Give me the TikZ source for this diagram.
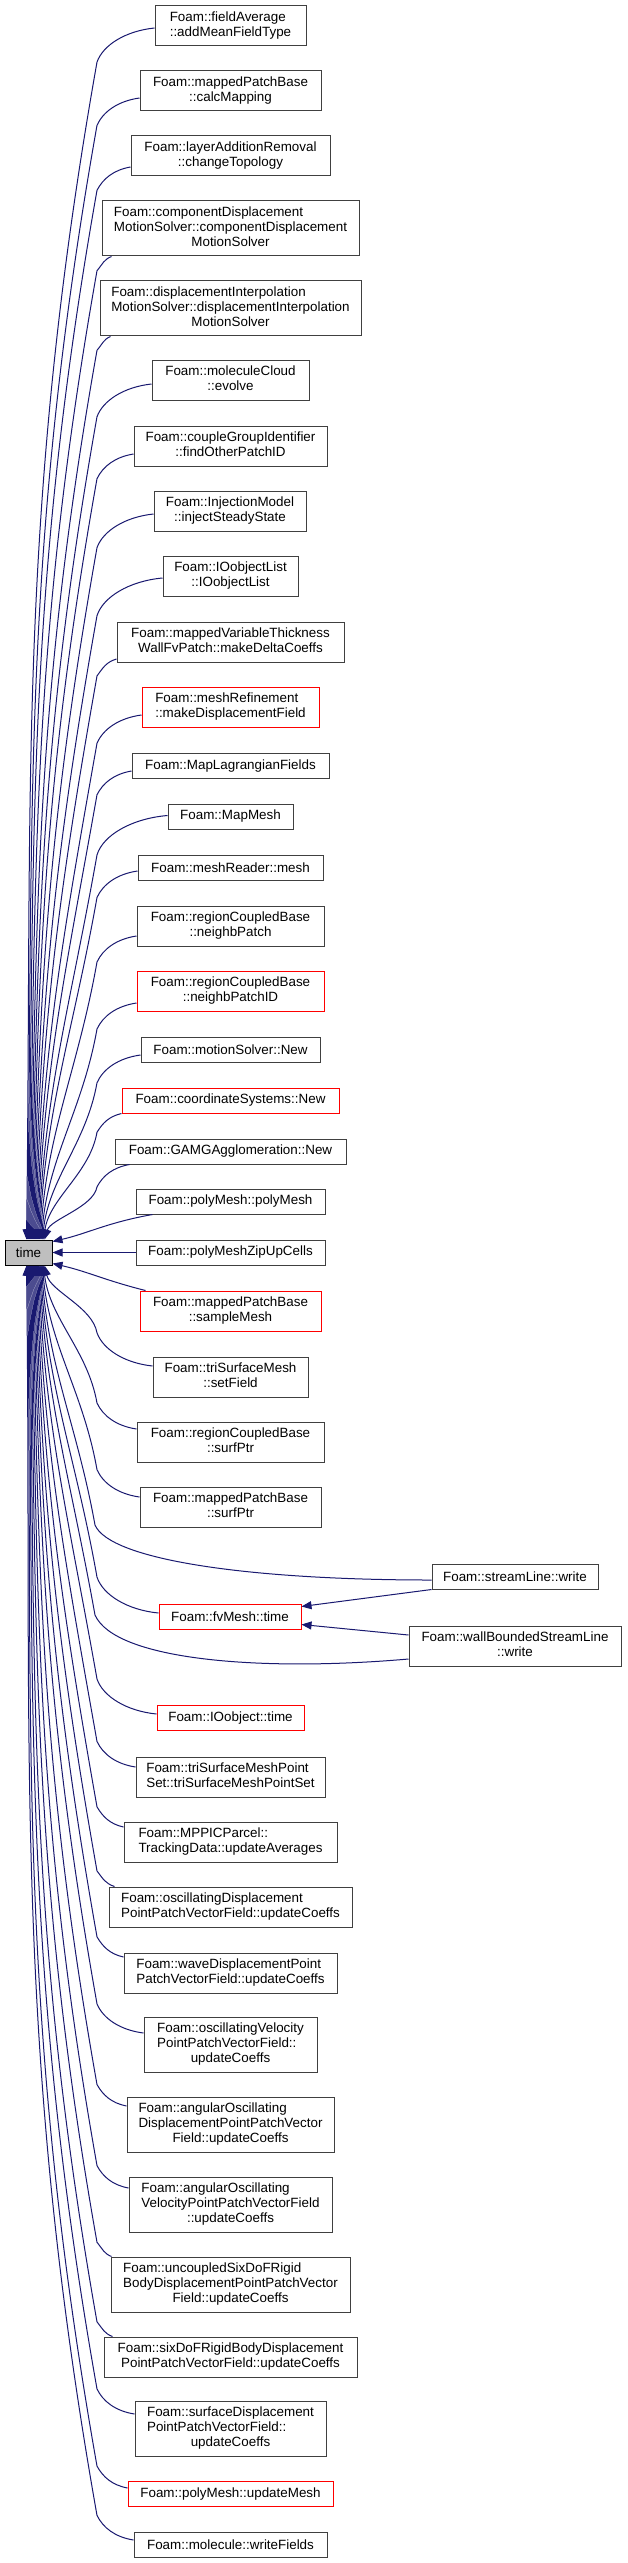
\documentclass[tikz,border=0pt]{standalone}
\usepackage{fontspec}
\setmainfont{Liberation Sans}
\usetikzlibrary{arrows.meta}
\definecolor{navy}{HTML}{191970}
\definecolor{boxline}{HTML}{404040}
\definecolor{timefill}{HTML}{BFBFBF}
\newcommand\nodefont{\fontsize{13.4}{15}\selectfont}
\newcommand\twol[2]{\begin{tabular}{@{}l@{}}#1\\\multicolumn{1}{@{}c@{}}{#2}\end{tabular}}
\newcommand\threel[3]{\begin{tabular}{@{}l@{}}#1\\#2\\\multicolumn{1}{@{}c@{}}{#3}\end{tabular}}
\newcommand\UpE[4]{%
 \pgfmathsetmacro\eBy{#3+0.45*(#2-97)+8}%
 \pgfmathsetmacro\eCa{-0.5*(#2-97)}%
 \pgfmathsetmacro\eCb{0.5*(\eBy-#3)}%
 \pgfmathsetmacro\eD{1240-\eBy}%
 \pgfmathsetmacro\eDx{-0.068*\eD}%
 \pgfmathsetmacro\eDy{0.384*\eD}%
 \draw[edge] (#1) .. controls +(\eCa,3) and +(6,-\eCb) .. (97,\eBy) .. controls +(\eDx,\eDy) and +(6,-\eDy) .. ([shift={(#4,0)}]tm.north west);%
}
\newcommand\LoE[4]{%
 \pgfmathsetmacro\eBy{#3-0.45*(#2-97)-8}%
 \pgfmathsetmacro\eCa{-0.5*(#2-97)}%
 \pgfmathsetmacro\eCb{0.5*(#3-\eBy)}%
 \pgfmathsetmacro\eD{\eBy-1265}%
 \pgfmathsetmacro\eDx{-0.068*\eD}%
 \pgfmathsetmacro\eDy{0.384*\eD}%
 \draw[edge] (#1) .. controls +(\eCa,-3) and +(6,\eCb) .. (97,\eBy) .. controls +(\eDx,-\eDy) and +(6,\eDy) .. ([shift={(#4,0)}]tm.south west);%
}
\tikzset{
 fbox/.style={draw=boxline, line width=1pt, fill=white, inner xsep=6pt, inner ysep=0pt, font=\nodefont},
 rbox/.style={fbox, draw=red},
 tbox/.style={draw=black, fill=timefill, line width=1pt, minimum width=47pt, minimum height=25pt, inner sep=0pt, font=\nodefont},
 edge/.style={draw=navy, line width=1pt, -{Triangle[length=10pt,width=8pt]}}
}
\begin{document}
\begin{tikzpicture}[x=1pt,y=-1pt]
\path[use as bounding box, fill=white] (0,0) rectangle (627,2563);
\node[fbox,minimum width=151pt,minimum height=40pt] (n1) at (230.5,26) {\twol{Foam::fieldAverage}{::addMeanFieldType}};
\node[fbox,minimum width=181pt,minimum height=40pt] (n2) at (230.5,91) {\twol{Foam::mappedPatchBase}{::calcMapping}};
\node[fbox,minimum width=199pt,minimum height=40pt] (n3) at (230.5,156) {\twol{Foam::layerAdditionRemoval}{::changeTopology}};
\node[fbox,minimum width=257pt,minimum height=55pt] (n4) at (230.5,228.5) {\threel{Foam::componentDisplacement}{MotionSolver::componentDisplacement}{MotionSolver}};
\node[fbox,minimum width=261pt,minimum height=55pt] (n5) at (230.5,308.5) {\threel{Foam::displacementInterpolation}{MotionSolver::displacementInterpolation}{MotionSolver}};
\node[fbox,minimum width=157pt,minimum height=40pt] (n6) at (230.5,380) {\twol{Foam::moleculeCloud}{::evolve}};
\node[fbox,minimum width=193pt,minimum height=40pt] (n7) at (230.5,446) {\twol{Foam::coupleGroupIdentifier}{::findOtherPatchID}};
\node[fbox,minimum width=152pt,minimum height=40pt] (n8) at (230,511) {\twol{Foam::InjectionModel}{::injectSteadyState}};
\node[fbox,minimum width=135pt,minimum height=40pt] (n9) at (230.5,576) {\twol{Foam::IOobjectList}{::IOobjectList}};
\node[fbox,minimum width=227pt,minimum height=40pt] (n10) at (230.5,642) {\twol{Foam::mappedVariableThickness}{WallFvPatch::makeDeltaCoeffs}};
\node[rbox,minimum width=177pt,minimum height=40pt] (n11) at (230.5,707) {\twol{Foam::meshRefinement}{::makeDisplacementField}};
\node[fbox,minimum width=197pt,minimum height=25pt] (n12) at (230.5,766) {Foam::MapLagrangianFields};
\node[fbox,minimum width=125pt,minimum height=25pt] (n13) at (230.5,816.5) {Foam::MapMesh};
\node[fbox,minimum width=185pt,minimum height=25pt] (n14) at (230.5,867.5) {Foam::meshReader::mesh};
\node[fbox,minimum width=187pt,minimum height=40pt] (n15) at (230.5,926) {\twol{Foam::regionCoupledBase}{::neighbPatch}};
\node[rbox,minimum width=187pt,minimum height=40pt] (n16) at (230.5,991) {\twol{Foam::regionCoupledBase}{::neighbPatchID}};
\node[fbox,minimum width=179pt,minimum height=25pt] (n17) at (230.5,1049.5) {Foam::motionSolver::New};
\node[rbox,minimum width=217pt,minimum height=25pt] (n18) at (230.5,1100.5) {Foam::coordinateSystems::New};
\node[fbox,minimum width=231pt,minimum height=25pt] (n19) at (230.5,1151.5) {Foam::GAMGAgglomeration::New};
\node[fbox,minimum width=189pt,minimum height=25pt] (n20) at (230.5,1201.5) {Foam::polyMesh::polyMesh};
\node[fbox,minimum width=189pt,minimum height=25pt] (n21) at (230.5,1252.5) {Foam::polyMeshZipUpCells};
\node[tbox] (tm) at (28.5,1252.5) {time};
\node[rbox,minimum width=181pt,minimum height=40pt] (n22) at (230.5,1311) {\twol{Foam::mappedPatchBase}{::sampleMesh}};
\node[fbox,minimum width=155pt,minimum height=40pt] (n23) at (230.5,1377) {\twol{Foam::triSurfaceMesh}{::setField}};
\node[fbox,minimum width=187pt,minimum height=40pt] (n24) at (230.5,1442) {\twol{Foam::regionCoupledBase}{::surfPtr}};
\node[fbox,minimum width=181pt,minimum height=40pt] (n25) at (230.5,1507) {\twol{Foam::mappedPatchBase}{::surfPtr}};
\node[fbox,minimum width=166pt,minimum height=25pt] (n26) at (515,1576.5) {Foam::streamLine::write};
\node[rbox,minimum width=142pt,minimum height=25pt] (n27) at (230,1616.5) {Foam::fvMesh::time};
\node[fbox,minimum width=212pt,minimum height=40pt] (n28) at (515,1646) {\twol{Foam::wallBoundedStreamLine}{::write}};
\node[rbox,minimum width=147pt,minimum height=25pt] (n29) at (230.5,1718) {Foam::IOobject::time};
\node[fbox,minimum width=189pt,minimum height=40pt] (n30) at (230.5,1777) {\twol{Foam::triSurfaceMeshPoint}{Set::triSurfaceMeshPointSet}};
\node[fbox,minimum width=213pt,minimum height=40pt] (n31) at (230.5,1842) {\twol{Foam::MPPICParcel::}{TrackingData::updateAverages}};
\node[fbox,minimum width=243pt,minimum height=40pt] (n32) at (230.5,1907) {\twol{Foam::oscillatingDisplacement}{PointPatchVectorField::updateCoeffs}};
\node[fbox,minimum width=213pt,minimum height=40pt] (n33) at (230.5,1973) {\twol{Foam::waveDisplacementPoint}{PatchVectorField::updateCoeffs}};
\node[fbox,minimum width=173pt,minimum height=55pt] (n34) at (230.5,2044.5) {\threel{Foam::oscillatingVelocity}{PointPatchVectorField::}{updateCoeffs}};
\node[fbox,minimum width=207pt,minimum height=55pt] (n35) at (230.5,2124.5) {\threel{Foam::angularOscillating}{DisplacementPointPatchVector}{Field::updateCoeffs}};
\node[fbox,minimum width=203pt,minimum height=55pt] (n36) at (230.5,2204.5) {\threel{Foam::angularOscillating}{VelocityPointPatchVectorField}{::updateCoeffs}};
\node[fbox,minimum width=239pt,minimum height=55pt] (n37) at (230.5,2284.5) {\threel{Foam::uncoupledSixDoFRigid}{BodyDisplacementPointPatchVector}{Field::updateCoeffs}};
\node[fbox,minimum width=253pt,minimum height=40pt] (n38) at (230.5,2357) {\twol{Foam::sixDoFRigidBodyDisplacement}{PointPatchVectorField::updateCoeffs}};
\node[fbox,minimum width=191pt,minimum height=55pt] (n39) at (230.5,2428.5) {\threel{Foam::surfaceDisplacement}{PointPatchVectorField::}{updateCoeffs}};
\node[rbox,minimum width=205pt,minimum height=25pt] (n40) at (230.5,2494) {Foam::polyMesh::updateMesh};
\node[fbox,minimum width=193pt,minimum height=25pt] (n41) at (230.5,2544.5) {Foam::molecule::writeFields};
% upper edges
\UpE{[shift={(0,2)}]n1.west}{155}{28}{22}
\UpE{[shift={(0,7)}]n2.west}{140}{98}{23}
\UpE{[shift={(0,11)}]n3.west}{131}{167}{24}
\UpE{[shift={(10,0)}]n4.south west}{112}{256}{25}
\UpE{[shift={(11,0)}]n5.south west}{111}{336}{26}
\UpE{[shift={(0,4)}]n6.west}{152}{384}{27}
\UpE{[shift={(0,8)}]n7.west}{134}{454}{28}
\UpE{[shift={(0,3)}]n8.west}{154}{514}{29}
\UpE{[shift={(0,2)}]n9.west}{163}{578}{30}
\UpE{[shift={(0,17)}]n10.west}{117}{659}{31}
\UpE{[shift={(0,8)}]n11.west}{142}{715}{32}
\UpE{[shift={(0,5)}]n12.west}{132}{771}{33}
\UpE{[shift={(0,-1)}]n13.west}{168}{815}{34}
\UpE{[shift={(0,3.5)}]n14.west}{138}{871}{35}
\UpE{[shift={(0,10)}]n15.west}{137}{936}{36}
\UpE{[shift={(0,12)}]n16.west}{137}{1003}{37}
\UpE{[shift={(0,5.5)}]n17.west}{141}{1055}{38}
\UpE{n18.south west}{122}{1113}{39}
\UpE{[shift={(15,0)}]n19.south west}{130}{1164}{40}
\draw[edge] ([shift={(17,0)}]n20.south west) .. controls +(-45,8) and +(35,-8) .. ([shift={(0,2)}]tm.north east);
\draw[edge] (n21.west) -- (tm.east);
\draw[edge] ([shift={(6,0)}]n22.north west) .. controls +(-40,-10) and +(35,8) .. ([shift={(0,-2)}]tm.south east);
% lower edges
\LoE{[shift={(0,-11)}]n23.west}{153}{1366}{40}
\LoE{[shift={(0,-13)}]n24.west}{137}{1429}{39}
\LoE{[shift={(0,-10)}]n25.west}{140}{1497}{38}
\draw[edge] ([shift={(0,3.5)}]n26.west) .. controls +(-182,0) and +(15,35) .. (95,1525) .. controls +(-18,-100) and +(6,100) .. ([shift={(37,0)}]tm.south west);
\LoE{[shift={(0,-3.5)}]n27.west}{159}{1613}{36}
\draw[edge] ([shift={(0,13)}]n28.west) .. controls +(-149,13) and +(20,45) .. (95,1615) .. controls +(-24,-134) and +(6,134) .. ([shift={(35,0)}]tm.south west);
\draw[edge] (n26.south west) -- ([shift={(0,-10)}]n27.east);
\draw[edge] ([shift={(0,-11)}]n28.west) -- ([shift={(0,8)}]n27.east);
\LoE{[shift={(0,-4)}]n29.west}{157}{1714}{34}
\LoE{[shift={(0,-10)}]n30.west}{136}{1767}{33}
\LoE{[shift={(0,-15)}]n31.west}{124}{1827}{32}
\LoE{[shift={(6,0)}]n32.north west}{115}{1887}{31}
\LoE{[shift={(0,-16)}]n33.west}{124}{1957}{30}
\LoE{[shift={(0,-11.5)}]n34.west}{144}{2033}{29}
\LoE{[shift={(0,-18.5)}]n35.west}{127}{2106}{28}
\LoE{[shift={(0,-16.5)}]n36.west}{129}{2188}{27}
\LoE{[shift={(1,0)}]n37.north west}{112}{2257}{26}
\LoE{[shift={(9,0)}]n38.north west}{113}{2337}{25}
\LoE{[shift={(0,-14.5)}]n39.west}{135}{2414}{24}
\LoE{[shift={(0,-6)}]n40.west}{128}{2488}{23}
\LoE{[shift={(0,-4.5)}]n41.west}{134}{2540}{22}
\end{tikzpicture}
\end{document}
